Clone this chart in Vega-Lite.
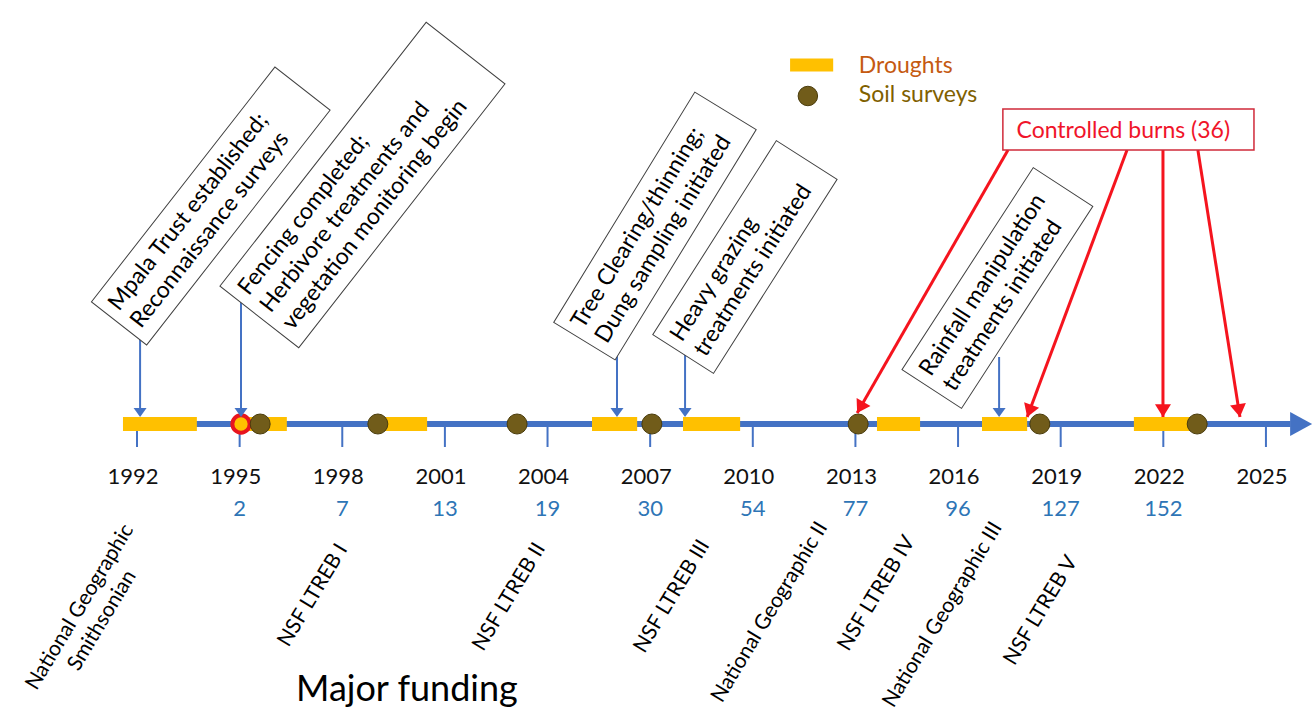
{
  "$schema": "https://vega.github.io/schema/vega-lite/v6.json",
  "width": 1315,
  "height": 721,
  "padding": 0,
  "autosize": {"type": "none"},
  "background": "white",
  "config": {"font": "Lato", "view": {"stroke": null}},
  "datasets": {
    "axisline": [{"year": 1991.59, "year2": 2025.72, "level": 0}],
    "axishead": [{"year": 2026.35, "level": 0}],
    "years": [
      {"year": 1992}, {"year": 1995, "count": 2}, {"year": 1998, "count": 7}, {"year": 2001, "count": 13},
      {"year": 2004, "count": 19}, {"year": 2007, "count": 30}, {"year": 2010, "count": 54}, {"year": 2013, "count": 77},
      {"year": 2016, "count": 96}, {"year": 2019, "count": 127}, {"year": 2022, "count": 152}, {"year": 2025}
    ],
    "droughts": [
      {"year": 1991.59, "year2": 1993.75}, {"year": 1995.2, "year2": 1996.38}, {"year": 1999.1, "year2": 2000.48},
      {"year": 2005.3, "year2": 2006.62}, {"year": 2007.96, "year2": 2009.63}, {"year": 2013.63, "year2": 2014.89},
      {"year": 2016.7, "year2": 2018.02}, {"year": 2021.14, "year2": 2022.9}
    ],
    "soil": [{"year": 1995.6}, {"year": 1999.04}, {"year": 2003.11}, {"year": 2007.05}, {"year": 2013.08}, {"year": 2018.39}, {"year": 2022.99}],
    "firstburn": [{"year": 1995.04}],
    "events": [
      {"id": 1, "year": 1992.09, "top": 90}, {"id": 2, "year": 1995.04, "top": 130}, {"id": 3, "year": 2006.03, "top": 70},
      {"id": 4, "year": 2008.02, "top": 75}, {"id": 5, "year": 2017.2, "top": 67}
    ],
    "boxes": [
      {"id": 1, "year": 1994.156, "level": 218, "label": "Mpala Trust established;\nReconnaissance surveys"},
      {"id": 2, "year": 1998.59, "level": 239, "label": "Fencing completed;\nHerbivore treatments and\nvegetation monitoring begin"},
      {"id": 3, "year": 2007.14, "level": 198, "label": "Tree Clearing/thinning;\nDung sampling initiated"},
      {"id": 4, "year": 2009.77, "level": 167, "label": "Heavy grazing\ntreatments initiated"},
      {"id": 5, "year": 2017.15, "level": 136, "label": "Rainfall manipulation\ntreatments initiated"}
    ],
    "burnbox": [{"year": 2017.31, "year2": 2024.65, "level": 315, "level2": 274}],
    "burnlabel": [{"year": 2020.83, "level": 293, "label": "Controlled burns (36)"}],
    "burns": [
      {"year": 2017.46, "level": 274, "year2": 2013.05, "level2": 11, "heading": 30},
      {"year": 2020.94, "level": 274, "year2": 2018.02, "level2": 7, "heading": 20.5},
      {"year": 2021.99, "level": 274, "year2": 2021.99, "level2": 7, "heading": 0},
      {"year": 2023.01, "level": 274, "year2": 2024.24, "level2": 7, "heading": -8.9}
    ],
    "funding": [
      {"year": 1990.66, "level": -190, "label": "National Geographic\nSmithsonian"},
      {"year": 1998.02, "level": -122, "label": "NSF LTREB I"},
      {"year": 2003.8, "level": -121, "label": "NSF LTREB II"},
      {"year": 2008.6, "level": -118, "label": "NSF LTREB III"},
      {"year": 2012.05, "level": -100, "label": "National Geographic II"},
      {"year": 2014.6, "level": -114, "label": "NSF LTREB IV"},
      {"year": 2017.15, "level": -100, "label": "National Geographic III"},
      {"year": 2019.35, "level": -134, "label": "NSF LTREB V"}
    ],
    "title": [{"year": 1999.89, "level": -266, "label": "Major funding"}],
    "legendbar": [{"year": 2011.09, "year2": 2012.35, "level": 359}],
    "legenddot": [{"year": 2011.61, "level": 328}],
    "legendtext": [
      {"year": 2013.1, "level": 358, "label": "Droughts"},
      {"year": 2013.1, "level": 329, "label": "Soil surveys"}
    ]
  },
  "encoding": {
    "x": {"field": "year", "type": "quantitative", "scale": {"domain": [1987.995, 2026.434], "nice": false, "zero": false}, "axis": null}
  },
  "layer": [
    {"data": {"name": "years"}, "mark": {"type": "rule", "color": "#4472C4", "strokeWidth": 2},
     "encoding": {"y": {"datum": 0, "type": "quantitative", "scale": {"domain": [-297, 424], "nice": false, "zero": false}, "axis": null}, "y2": {"datum": -23}}},
    {"data": {"name": "axisline"}, "mark": {"type": "rule", "color": "#4472C4", "strokeWidth": 6, "strokeCap": "butt"},
     "encoding": {"x2": {"field": "year2"}, "y": {"field": "level", "type": "quantitative", "scale": {"domain": [-297, 424], "nice": false, "zero": false}, "axis": null}}},
    {"data": {"name": "axishead"}, "mark": {"type": "point", "shape": "M-1.57,-0.86L0,0L-1.57,0.86Z", "size": 784, "filled": true, "fill": "#4472C4", "strokeWidth": 0, "opacity": 1},
     "encoding": {"y": {"field": "level", "type": "quantitative", "scale": {"domain": [-297, 424], "nice": false, "zero": false}, "axis": null}}},
    {"data": {"name": "years"}, "mark": {"type": "text", "fontSize": 22, "color": "#111111", "baseline": "middle", "align": "center", "dx": -4},
     "encoding": {"y": {"datum": -53, "type": "quantitative", "scale": {"domain": [-297, 424], "nice": false, "zero": false}, "axis": null}, "text": {"field": "year", "type": "nominal"}}},
    {"data": {"name": "years"}, "transform": [{"filter": "isValid(datum.count)"}],
     "mark": {"type": "text", "fontSize": 22, "color": "#2E75B6", "baseline": "middle", "align": "center"},
     "encoding": {"y": {"datum": -85, "type": "quantitative", "scale": {"domain": [-297, 424], "nice": false, "zero": false}, "axis": null}, "text": {"field": "count", "type": "nominal"}}},
    {"data": {"name": "droughts"}, "mark": {"type": "rule", "color": "#FFC000", "strokeWidth": 14, "strokeCap": "butt"},
     "encoding": {"x2": {"field": "year2"}, "y": {"datum": 0, "type": "quantitative", "scale": {"domain": [-297, 424], "nice": false, "zero": false}, "axis": null}}},
    {"data": {"name": "firstburn"}, "mark": {"type": "point", "shape": "circle", "size": 300, "filled": true, "fill": "#FFC000", "stroke": "#E8141E", "strokeWidth": 4, "opacity": 1},
     "encoding": {"y": {"datum": 0, "type": "quantitative", "scale": {"domain": [-297, 424], "nice": false, "zero": false}, "axis": null}}},
    {"data": {"name": "soil"}, "mark": {"type": "point", "shape": "circle", "size": 400, "filled": true, "fill": "#715C1A", "stroke": "#4A3C0C", "strokeWidth": 1, "opacity": 1},
     "encoding": {"y": {"datum": 0, "type": "quantitative", "scale": {"domain": [-297, 424], "nice": false, "zero": false}, "axis": null}}},
    {"data": {"name": "events"}, "mark": {"type": "rule", "color": "#4472C4", "strokeWidth": 2},
     "encoding": {"y": {"field": "top", "type": "quantitative", "scale": {"domain": [-297, 424], "nice": false, "zero": false}, "axis": null}, "y2": {"datum": 14}}},
    {"data": {"name": "events"}, "mark": {"type": "point", "shape": "M-1.3,-1.8L1.3,-1.8L0,0Z", "size": 100, "filled": true, "fill": "#4472C4", "strokeWidth": 0, "opacity": 1},
     "encoding": {"y": {"datum": 7, "type": "quantitative", "scale": {"domain": [-297, 424], "nice": false, "zero": false}, "axis": null}}},
    {"data": {"name": "burns"}, "mark": {"type": "rule", "color": "#F5141E", "strokeWidth": 3},
     "encoding": {"x2": {"field": "year2"}, "y": {"field": "level", "type": "quantitative", "scale": {"domain": [-297, 424], "nice": false, "zero": false}, "axis": null}, "y2": {"field": "level2"}}},
    {"data": {"name": "burns"}, "mark": {"type": "point", "shape": "M-1,-1.6L1,-1.6L0,0Z", "size": 256, "filled": true, "fill": "#F5141E", "strokeWidth": 0, "opacity": 1},
     "encoding": {"x": {"field": "year2", "type": "quantitative"}, "y": {"field": "level2", "type": "quantitative", "scale": {"domain": [-297, 424], "nice": false, "zero": false}, "axis": null}, "angle": {"field": "heading", "type": "quantitative", "scale": null}}},
    {"data": {"name": "burnbox"}, "mark": {"type": "rect", "fill": "white", "stroke": "#D02A3A", "strokeWidth": 1.5},
     "encoding": {"x2": {"field": "year2"}, "y": {"field": "level", "type": "quantitative", "scale": {"domain": [-297, 424], "nice": false, "zero": false}, "axis": null}, "y2": {"field": "level2"}}},
    {"data": {"name": "burnlabel"}, "mark": {"type": "text", "fontSize": 23, "color": "#F0142A", "align": "center", "baseline": "middle"},
     "encoding": {"y": {"field": "level", "type": "quantitative", "scale": {"domain": [-297, 424], "nice": false, "zero": false}, "axis": null}, "text": {"field": "label", "type": "nominal"}}},
    {"data": {"name": "boxes"}, "transform": [{"filter": "datum.id == 1"}],
     "encoding": {"y": {"field": "level", "type": "quantitative", "scale": {"domain": [-297, 424], "nice": false, "zero": false}, "axis": null}},
     "layer": [
       {"mark": {"type": "point", "shape": "M-1,-0.235L1,-0.235L1,0.235L-1,0.235Z", "size": 88804, "angle": -52, "filled": true, "fill": "white", "stroke": "#404040", "strokeWidth": 1, "opacity": 1}},
       {"mark": {"type": "text", "angle": -52, "align": "left", "baseline": "middle", "dx": -140, "dy": -14, "fontSize": 23, "lineHeight": 28, "lineBreak": "\n", "color": "#000000"},
        "encoding": {"text": {"field": "label", "type": "nominal"}}}
     ]},
    {"data": {"name": "boxes"}, "transform": [{"filter": "datum.id == 2"}],
     "encoding": {"y": {"field": "level", "type": "quantitative", "scale": {"domain": [-297, 424], "nice": false, "zero": false}, "axis": null}},
     "layer": [
       {"mark": {"type": "point", "shape": "M-1,-0.2985L1,-0.2985L1,0.2985L-1,0.2985Z", "size": 112225, "angle": -52, "filled": true, "fill": "white", "stroke": "#404040", "strokeWidth": 1, "opacity": 1}},
       {"mark": {"type": "text", "angle": -52, "align": "left", "baseline": "middle", "dx": -158, "dy": -28, "fontSize": 23, "lineHeight": 28, "lineBreak": "\n", "color": "#000000"},
        "encoding": {"text": {"field": "label", "type": "nominal"}}}
     ]},
    {"data": {"name": "boxes"}, "transform": [{"filter": "datum.id == 3"}],
     "encoding": {"y": {"field": "level", "type": "quantitative", "scale": {"domain": [-297, 424], "nice": false, "zero": false}, "axis": null}},
     "layer": [
       {"mark": {"type": "point", "shape": "M-1,-0.2667L1,-0.2667L1,0.2667L-1,0.2667Z", "size": 72900, "angle": -58.5, "filled": true, "fill": "white", "stroke": "#404040", "strokeWidth": 1, "opacity": 1}},
       {"mark": {"type": "text", "angle": -58.5, "align": "left", "baseline": "middle", "dx": -126, "dy": -14, "fontSize": 23, "lineHeight": 28, "lineBreak": "\n", "color": "#000000"},
        "encoding": {"text": {"field": "label", "type": "nominal"}}}
     ]},
    {"data": {"name": "boxes"}, "transform": [{"filter": "datum.id == 4"}],
     "encoding": {"y": {"field": "level", "type": "quantitative", "scale": {"domain": [-297, 424], "nice": false, "zero": false}, "axis": null}},
     "layer": [
       {"mark": {"type": "point", "shape": "M-1,-0.313L1,-0.313L1,0.313L-1,0.313Z", "size": 52900, "angle": -57.5, "filled": true, "fill": "white", "stroke": "#404040", "strokeWidth": 1, "opacity": 1}},
       {"mark": {"type": "text", "angle": -57.5, "align": "left", "baseline": "middle", "dx": -106, "dy": -14, "fontSize": 23, "lineHeight": 28, "lineBreak": "\n", "color": "#000000"},
        "encoding": {"text": {"field": "label", "type": "nominal"}}}
     ]},
    {"data": {"name": "boxes"}, "transform": [{"filter": "datum.id == 5"}],
     "encoding": {"y": {"field": "level", "type": "quantitative", "scale": {"domain": [-297, 424], "nice": false, "zero": false}, "axis": null}},
     "layer": [
       {"mark": {"type": "point", "shape": "M-1,-0.2946L1,-0.2946L1,0.2946L-1,0.2946Z", "size": 58081, "angle": -57, "filled": true, "fill": "white", "stroke": "#404040", "strokeWidth": 1, "opacity": 1}},
       {"mark": {"type": "text", "angle": -57, "align": "left", "baseline": "middle", "dx": -111, "dy": -14, "fontSize": 23, "lineHeight": 28, "lineBreak": "\n", "color": "#000000"},
        "encoding": {"text": {"field": "label", "type": "nominal"}}}
     ]},
    {"data": {"name": "funding"}, "transform": [{"filter": "datum.year > 1991"}],
     "mark": {"type": "text", "angle": -59, "align": "right", "baseline": "middle", "fontSize": 21, "color": "#000000"},
     "encoding": {"y": {"field": "level", "type": "quantitative", "scale": {"domain": [-297, 424], "nice": false, "zero": false}, "axis": null}, "text": {"field": "label", "type": "nominal"}}},
    {"data": {"name": "funding"}, "transform": [{"filter": "datum.year < 1991"}],
     "mark": {"type": "text", "angle": -59, "align": "center", "baseline": "middle", "dy": -13, "fontSize": 21, "lineHeight": 26, "lineBreak": "\n", "color": "#000000"},
     "encoding": {"y": {"field": "level", "type": "quantitative", "scale": {"domain": [-297, 424], "nice": false, "zero": false}, "axis": null}, "text": {"field": "label", "type": "nominal"}}},
    {"data": {"name": "title"}, "mark": {"type": "text", "align": "center", "baseline": "middle", "fontSize": 36, "color": "#000000"},
     "encoding": {"y": {"field": "level", "type": "quantitative", "scale": {"domain": [-297, 424], "nice": false, "zero": false}, "axis": null}, "text": {"field": "label", "type": "nominal"}}},
    {"data": {"name": "legendbar"}, "mark": {"type": "rule", "color": "#FFC000", "strokeWidth": 13, "strokeCap": "butt"},
     "encoding": {"x2": {"field": "year2"}, "y": {"field": "level", "type": "quantitative", "scale": {"domain": [-297, 424], "nice": false, "zero": false}, "axis": null}}},
    {"data": {"name": "legenddot"}, "mark": {"type": "point", "shape": "circle", "size": 380, "filled": true, "fill": "#715C1A", "stroke": "#4A3C0C", "strokeWidth": 1, "opacity": 1},
     "encoding": {"y": {"field": "level", "type": "quantitative", "scale": {"domain": [-297, 424], "nice": false, "zero": false}, "axis": null}}},
    {"data": {"name": "legendtext"}, "transform": [{"filter": "datum.label == 'Droughts'"}],
     "mark": {"type": "text", "align": "left", "baseline": "middle", "fontSize": 23, "color": "#C55A11"},
     "encoding": {"y": {"field": "level", "type": "quantitative", "scale": {"domain": [-297, 424], "nice": false, "zero": false}, "axis": null}, "text": {"field": "label", "type": "nominal"}}},
    {"data": {"name": "legendtext"}, "transform": [{"filter": "datum.label == 'Soil surveys'"}],
     "mark": {"type": "text", "align": "left", "baseline": "middle", "fontSize": 23, "color": "#7F6000"},
     "encoding": {"y": {"field": "level", "type": "quantitative", "scale": {"domain": [-297, 424], "nice": false, "zero": false}, "axis": null}, "text": {"field": "label", "type": "nominal"}}}
  ]
}
